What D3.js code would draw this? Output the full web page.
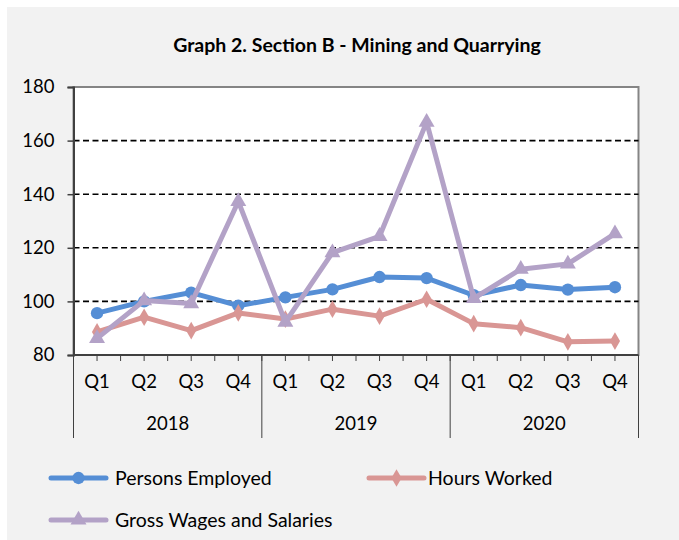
<!DOCTYPE html>
<html>
<head>
<meta charset="utf-8">
<script src="https://cdn.jsdelivr.net/npm/d3@7/dist/d3.min.js"></script>
<style>
  html, body { margin: 0; padding: 0; background: #fff; }
  svg { display: block; font-family: Lato, 'Open Sans', sans-serif; }
</style>
</head>
<body>
<svg id="chart" width="679" height="540"></svg>
<script>
// ── Data ──────────────────────────────────────────────────
const years = ['2018', '2019', '2020'];
const quarters = ['Q1', 'Q2', 'Q3', 'Q4'];
const personsEmployed = [95.6, 100.0, 103.3, 98.4, 101.5, 104.5, 109.1, 108.7, 102.3, 106.1, 104.4, 105.3];
const hoursWorked     = [88.6, 94.1, 89.1, 95.7, 93.4, 97.1, 94.5, 100.8, 91.7, 90.2, 84.9, 85.2];
const grossWages      = [86.2, 100.3, 99.2, 137.3, 92.3, 118.2, 124.3, 166.9, 101.1, 112.0, 114.0, 125.3];
const yTicks = [80, 100, 120, 140, 160, 180];

const series = [
  { name: 'Persons Employed',          values: personsEmployed, color: '#558ed5', marker: 'circle' },
  { name: 'Hours Worked',              values: hoursWorked,     color: '#d99694', marker: 'diamond' },
  { name: 'Gross Wages and Salaries',  values: grossWages,      color: '#b3a2c7', marker: 'triangle' },
];

const categories = [];
years.forEach(y => quarters.forEach(q => categories.push({ key: y + q, year: y, q })));

// ── Layout ────────────────────────────────────────────────
const svg = d3.select('#chart');
const plot = { left: 73.5, top: 87, right: 638.5, bottom: 355 };
const FONT = 18.5;

svg.append('rect').attr('x', 7).attr('y', 7).attr('width', 672).attr('height', 533).attr('fill', '#f2f2f2');

svg.append('text')
  .attr('x', 357).attr('y', 52)
  .attr('text-anchor', 'middle')
  .attr('font-size', 19.5).attr('font-weight', 700)
  .attr('fill', '#000')
  .text('Graph 2. Section B - Mining and Quarrying');

const x = d3.scaleBand().domain(categories.map(c => c.key)).range([plot.left, plot.right]);
const y = d3.scaleLinear().domain([80, 180]).range([plot.bottom, plot.top]);
const yearScale = d3.scaleBand().domain(years).range([plot.left, plot.right]);

// plot area
svg.append('rect')
  .attr('x', plot.left).attr('y', plot.top)
  .attr('width', plot.right - plot.left).attr('height', plot.bottom - plot.top)
  .attr('fill', '#fff').attr('stroke', '#858585').attr('stroke-width', 2);

// gridlines
svg.append('g')
  .selectAll('line')
  .data(yTicks.filter(t => t > 80 && t < 180))
  .join('line')
  .attr('x1', plot.left).attr('x2', plot.right)
  .attr('y1', d => y(d)).attr('y2', d => y(d))
  .attr('stroke', '#000').attr('stroke-width', 1.6)
  .attr('stroke-dasharray', '6,3.5');

// y axis
const yAxis = svg.append('g')
  .attr('transform', `translate(${plot.left},0)`)
  .call(d3.axisLeft(y).tickValues(yTicks).tickSize(6).tickPadding(13));
yAxis.select('.domain').attr('stroke', '#404040').attr('stroke-width', 2);
yAxis.selectAll('.tick line').attr('stroke', '#404040').attr('stroke-width', 1.5);
yAxis.selectAll('.tick text').attr('font-size', FONT).attr('fill', '#000').attr('font-family', 'Lato, sans-serif');

// x axis: baseline and ticks
const xAxisG = svg.append('g');
xAxisG.append('line')
  .attr('x1', plot.left).attr('x2', plot.right)
  .attr('y1', plot.bottom).attr('y2', plot.bottom)
  .attr('stroke', '#404040').attr('stroke-width', 2);

// small tick at each category boundary and centre
xAxisG.selectAll('.qtick')
  .data(categories)
  .join('line')
  .attr('class', 'qtick')
  .attr('x1', d => x(d.key)).attr('x2', d => x(d.key))
  .attr('y1', plot.bottom).attr('y2', plot.bottom + 6)
  .attr('stroke', '#404040').attr('stroke-width', 1);
xAxisG.selectAll('.ctick')
  .data(categories)
  .join('line')
  .attr('class', 'ctick')
  .attr('x1', d => x(d.key) + x.bandwidth() / 2).attr('x2', d => x(d.key) + x.bandwidth() / 2)
  .attr('y1', plot.bottom).attr('y2', plot.bottom + 6)
  .attr('stroke', '#404040').attr('stroke-width', 1);

// year separators
const sepX = years.map(yr => yearScale(yr)).concat([plot.right]);
xAxisG.selectAll('.ysep')
  .data(sepX)
  .join('line')
  .attr('class', 'ysep')
  .attr('x1', d => d).attr('x2', d => d)
  .attr('y1', plot.bottom).attr('y2', 438)
  .attr('stroke', '#404040').attr('stroke-width', 1);

xAxisG.selectAll('.qlabel')
  .data(categories)
  .join('text')
  .attr('class', 'qlabel')
  .attr('x', d => x(d.key) + x.bandwidth() / 2)
  .attr('y', 388)
  .attr('text-anchor', 'middle')
  .attr('font-size', FONT).attr('fill', '#000')
  .text(d => d.q);

xAxisG.selectAll('.ylabel')
  .data(years)
  .join('text')
  .attr('class', 'ylabel')
  .attr('x', d => yearScale(d) + yearScale.bandwidth() / 2)
  .attr('y', 430)
  .attr('text-anchor', 'middle')
  .attr('font-size', FONT).attr('fill', '#000')
  .text(d => d);

// ── Markers ───────────────────────────────────────────────
const SYMBOLS = {
  circle:   d3.symbol().type(d3.symbolCircle).size(120),
  diamond:  d3.symbol().type(d3.symbolDiamond).size(90),
  triangle: d3.symbol().type(d3.symbolTriangle).size(110),
};

const line = d3.line()
  .x((d, i) => x(categories[i].key) + x.bandwidth() / 2)
  .y(d => y(d));

series.forEach(s => {
  const g = svg.append('g');
  g.append('path')
    .attr('d', line(s.values))
    .attr('fill', 'none')
    .attr('stroke', s.color).attr('stroke-width', 5)
    .attr('stroke-linejoin', 'round').attr('stroke-linecap', 'round');
  g.selectAll('path.mk')
    .data(s.values)
    .join('path')
    .attr('class', 'mk')
    .attr('d', SYMBOLS[s.marker])
    .attr('transform', (d, i) => `translate(${x(categories[i].key) + x.bandwidth() / 2},${y(d)})`)
    .attr('fill', s.color);
});

// ── Legend ────────────────────────────────────────────────
const legendPos = [
  { x: 51, y: 478 },
  { x: 369, y: 478 },
  { x: 51, y: 520 },
];
series.forEach((s, i) => {
  const p = legendPos[i];
  const g = svg.append('g').attr('transform', `translate(${p.x},${p.y})`);
  g.append('line')
    .attr('x1', 0).attr('x2', 55).attr('y1', 0).attr('y2', 0)
    .attr('stroke', s.color).attr('stroke-width', 5).attr('stroke-linecap', 'round');
  g.append('path')
    .attr('d', SYMBOLS[s.marker])
    .attr('transform', 'translate(27.5,0)')
    .attr('fill', s.color);
  g.append('text')
    .attr('x', i === 1 ? 59 : 64).attr('y', 0)
    .attr('dy', '0.35em')
    .attr('font-size', 19.5).attr('fill', '#000')
    .text(s.name);
});
</script>
</body>
</html>
